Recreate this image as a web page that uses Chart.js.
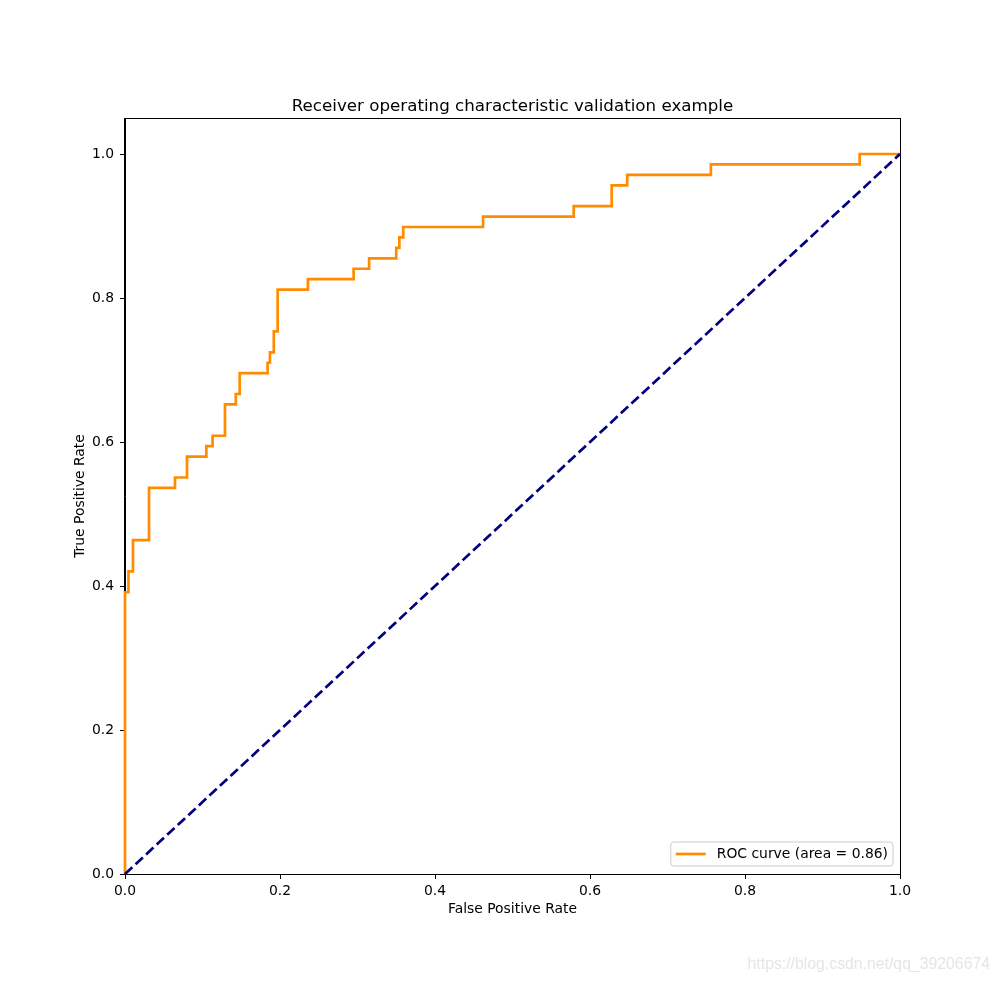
<!DOCTYPE html>
<html>
<head>
<meta charset="utf-8">
<script src="https://cdn.jsdelivr.net/npm/chart.js@4.4.1/dist/chart.umd.min.js"></script>
<style>
  html, body { margin: 0; padding: 0; background: #ffffff; }
  #wrap { width: 1000px; height: 982px; }
</style>
</head>
<body>
<div id="wrap"><canvas id="c" width="1000" height="982"></canvas></div>
<script>
// ---- data ----
const rocFpr = [0, 0, 0.0045, 0.0103, 0.031, 0.0645, 0.080, 0.105, 0.113, 0.129, 0.143, 0.148, 0.184, 0.187, 0.192, 0.197, 0.236, 0.295, 0.315, 0.350, 0.354, 0.359, 0.462, 0.579, 0.628, 0.648, 0.756, 0.948, 1.0];
const rocTpr = [0, 0.3913, 0.4203, 0.4638, 0.5362, 0.5507, 0.5797, 0.5942, 0.6087, 0.6522, 0.6667, 0.6957, 0.7101, 0.7246, 0.7536, 0.8116, 0.8261, 0.8406, 0.8551, 0.8696, 0.8841, 0.8986, 0.9130, 0.9275, 0.9565, 0.9710, 0.9855, 1.0, 1.0];
const chanceFpr = [0, 1];
const chanceTpr = [0, 1];
const xTicks = [0, 0.2, 0.4, 0.6, 0.8, 1.0];
const yTicks = [0, 0.2, 0.4, 0.6, 0.8, 1.0];
const rocLabel = 'ROC curve (area = 0.86)';
const titleText = 'Receiver operating characteristic validation example';
const xTitle = 'False Positive Rate';
const yTitle = 'True Positive Rate';
const watermark = 'https://blog.csdn.net/qq_39206674';

const FONT = "'DejaVu Sans', sans-serif";
const ORANGE = '#ff8c00';
const NAVY = '#000080';

const rocPoints = rocFpr.map((x, i) => ({x: x, y: rocTpr[i]}));
const chancePoints = chanceFpr.map((x, i) => ({x: x, y: chanceTpr[i]}));

const framePlugin = {
  id: 'frame',
  beforeDatasetsDraw(chart) {
    const {ctx, chartArea: a} = chart;
    ctx.save();
    ctx.strokeStyle = '#000';
    ctx.lineWidth = 1;
    ctx.strokeRect(Math.round(a.left) - 0.5, Math.round(a.top) + 0.5, Math.round(a.right - a.left) + 1, Math.round(a.bottom - a.top));
    ctx.restore();
  },
  afterDraw(chart) {
    const {ctx, chartArea: a} = chart;
    ctx.save();
    // title, centred over the plot area
    ctx.font = "16.7px " + FONT;
    ctx.fillStyle = '#000';
    ctx.textAlign = 'center';
    ctx.textBaseline = 'alphabetic';
    ctx.fillText(titleText, (a.left + a.right) / 2, 111);
    // legend box (lower right)
    ctx.font = "13.9px " + FONT;
    const tw = ctx.measureText(rocLabel).width;
    const boxW = 46 + tw + 5;
    const boxH = 24;
    const bx = a.right - 7 - boxW;
    const by = a.bottom - 8 - boxH;
    ctx.beginPath();
    const r = 3;
    ctx.moveTo(bx + r, by);
    ctx.lineTo(bx + boxW - r, by);
    ctx.quadraticCurveTo(bx + boxW, by, bx + boxW, by + r);
    ctx.lineTo(bx + boxW, by + boxH - r);
    ctx.quadraticCurveTo(bx + boxW, by + boxH, bx + boxW - r, by + boxH);
    ctx.lineTo(bx + r, by + boxH);
    ctx.quadraticCurveTo(bx, by + boxH, bx, by + boxH - r);
    ctx.lineTo(bx, by + r);
    ctx.quadraticCurveTo(bx, by, bx + r, by);
    ctx.closePath();
    ctx.fillStyle = 'rgba(255,255,255,0.8)';
    ctx.fill();
    ctx.strokeStyle = '#cccccc';
    ctx.lineWidth = 1;
    ctx.stroke();
    const cy = by + boxH / 2;
    ctx.strokeStyle = ORANGE;
    ctx.lineWidth = 2.7;
    ctx.beginPath();
    ctx.moveTo(bx + 5, cy);
    ctx.lineTo(bx + 35, cy);
    ctx.stroke();
    ctx.fillStyle = '#000';
    ctx.textBaseline = 'middle';
    ctx.textAlign = 'left';
    ctx.fillText(rocLabel, bx + 46, cy);
    // watermark
    ctx.font = "15.8px 'Liberation Sans', Arial, sans-serif";
    ctx.fillStyle = 'rgba(225,225,225,0.85)';
    ctx.textAlign = 'right';
    ctx.textBaseline = 'alphabetic';
    ctx.fillText(watermark, 990, 969);
    ctx.restore();
  }
};

new Chart(document.getElementById('c'), {
  type: 'line',
  data: {
    datasets: [
      {
        label: rocLabel,
        data: rocPoints,
        borderColor: ORANGE,
        backgroundColor: ORANGE,
        borderWidth: 2.7,
        pointRadius: 0,
        stepped: true,
        fill: false,
        clip: false,
        order: 1
      },
      {
        label: 'chance',
        data: chancePoints,
        borderColor: NAVY,
        backgroundColor: NAVY,
        borderWidth: 2.7,
        borderDash: [10, 4.4],
        pointRadius: 0,
        fill: false,
        clip: false,
        order: 0
      }
    ]
  },
  options: {
    responsive: false,
    animation: false,
    events: [],
    layout: { padding: { left: 0, right: 100, top: 118, bottom: 0 } },
    plugins: {
      legend: { display: false },
      tooltip: { enabled: false },
      title: { display: false }
    },
    scales: {
      x: {
        type: 'linear',
        min: 0,
        max: 1,
        afterFit(scale) { scale.height = 108; },
        afterBuildTicks(scale) { scale.ticks = xTicks.map(v => ({value: v})); },
        grid: { display: true, drawOnChartArea: false, drawTicks: true, tickLength: 5, color: '#000', lineWidth: 1 },
        border: { display: true, color: '#000', width: 1 },
        ticks: {
          color: '#000',
          font: { family: FONT, size: 13.9 },
          padding: 4,
          maxRotation: 0,
          callback: v => Number(v).toFixed(1)
        },
        title: {
          display: true,
          text: xTitle,
          color: '#000',
          font: { family: FONT, size: 13.9, lineHeight: 1.2 },
          padding: { top: 0, bottom: 64 }
        }
      },
      y: {
        type: 'linear',
        min: 0,
        max: 1.05,
        afterFit(scale) { scale.width = 125; },
        afterBuildTicks(scale) { scale.ticks = yTicks.map(v => ({value: v})); },
        grid: { display: true, drawOnChartArea: false, drawTicks: true, tickLength: 5, color: '#000', lineWidth: 1 },
        border: { display: true, color: '#000', width: 1 },
        ticks: {
          color: '#000',
          font: { family: FONT, size: 13.9 },
          padding: 6,
          callback: v => Number(v).toFixed(1)
        },
        title: {
          display: true,
          text: yTitle,
          color: '#000',
          font: { family: FONT, size: 13.9, lineHeight: 1.2 },
          padding: { top: 72, bottom: 0 }
        }
      }
    }
  },
  plugins: [framePlugin]
});
</script>
</body>
</html>
